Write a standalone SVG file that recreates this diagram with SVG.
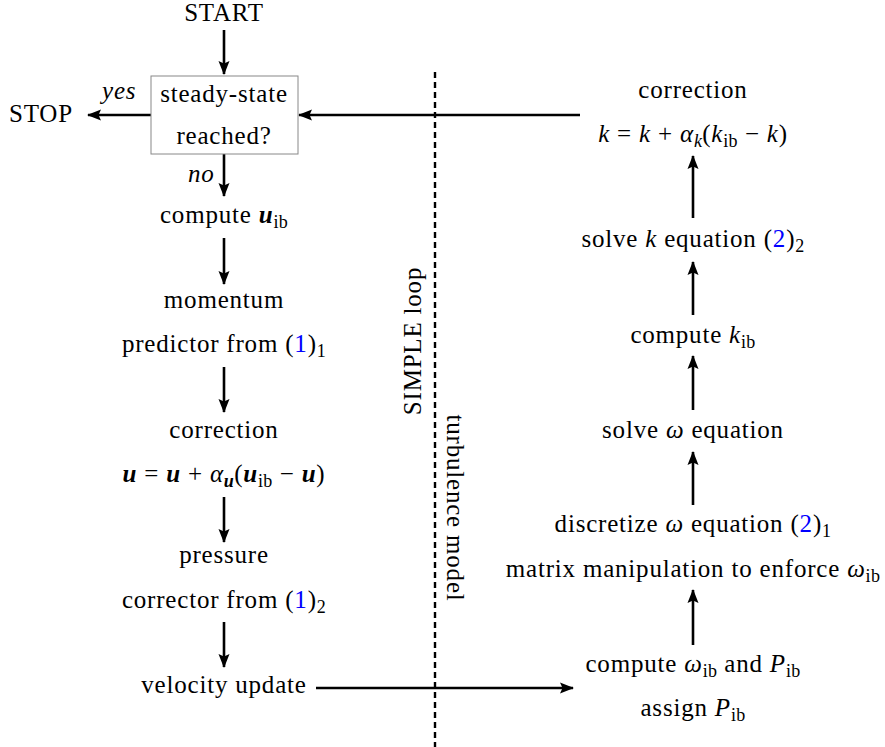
<svg xmlns="http://www.w3.org/2000/svg" width="885" height="747" viewBox="0 0 885 747">
<defs>
<marker id="ah" markerWidth="14" markerHeight="12" refX="13" refY="6" orient="auto" markerUnits="userSpaceOnUse">
<path d="M0,0.5 L14,6 L0,11.5 L2.5,6 Z" fill="#000"/>
</marker>
<style>
text{font-family:'Liberation Serif',serif !important;font-size:25px;letter-spacing:0.8px;fill:#000}
tspan{font-family:'Liberation Serif',serif !important}
.c{text-anchor:middle}
.i{font-style:italic}
.b{font-style:italic;font-weight:bold}
.s{font-size:18px;letter-spacing:0.3px}
.ref{fill:#0000ff}
.e{stroke:#000;stroke-width:2.6;fill:none;marker-end:url(#ah)}
.box{fill:#fff;stroke:#888;stroke-width:1}
.dash{stroke:#000;stroke-width:2.4;stroke-dasharray:6 4;fill:none}
</style>
</defs>
<g id="connectors">
<line class="e" x1="224" y1="30" x2="224" y2="74"/>
<line class="e" x1="151" y1="115" x2="88" y2="115"/>
<line class="e" x1="224" y1="154" x2="224" y2="196"/>
<line class="e" x1="224" y1="238" x2="224" y2="284"/>
<line class="e" x1="224" y1="367" x2="224" y2="412"/>
<line class="e" x1="224" y1="497" x2="224" y2="542"/>
<line class="e" x1="224" y1="622" x2="224" y2="667"/>
<line class="e" x1="316" y1="688" x2="573" y2="688"/>
<line class="e" x1="693" y1="645" x2="693" y2="590"/>
<line class="e" x1="693" y1="505" x2="693" y2="452"/>
<line class="e" x1="693" y1="410" x2="693" y2="356"/>
<line class="e" x1="693" y1="315" x2="693" y2="262"/>
<line class="e" x1="693" y1="218" x2="693" y2="156"/>
<line class="e" x1="580" y1="115" x2="299" y2="115"/>
<line class="dash" x1="435" y1="72" x2="435" y2="747"/>
<text style="font-family:'Liberation Serif'" class="i" x="102" y="99">yes</text>
<text style="font-family:'Liberation Serif'" class="i" x="188" y="182">no</text>
</g>
<g id="start"><text style="font-family:'Liberation Serif'" class="c" x="224" y="21">START</text></g>
<g id="stop"><text style="font-family:'Liberation Serif'" x="9" y="122">STOP</text></g>
<g id="decision">
<rect class="box" x="151" y="76" width="147" height="78"/>
<text style="font-family:'Liberation Serif'" class="c" x="224" y="102">steady-state</text>
<text style="font-family:'Liberation Serif'" class="c" x="224" y="144">reached?</text>
</g>
<g id="compute-uib"><text style="font-family:'Liberation Serif'" class="c" x="224" y="223">compute <tspan class="b">u</tspan><tspan class="s" dy="5">ib</tspan></text></g>
<g id="momentum">
<text style="font-family:'Liberation Serif'" class="c" x="224" y="308">momentum</text>
<text style="font-family:'Liberation Serif'" class="c" x="224" y="352">predictor from (<tspan class="ref">1</tspan>)<tspan class="s" dy="5">1</tspan></text>
</g>
<g id="correction-u">
<text style="font-family:'Liberation Serif'" class="c" x="224" y="438">correction</text>
<text style="font-family:'Liberation Serif'" class="c" x="224" y="482"><tspan class="b">u</tspan> = <tspan class="b">u</tspan> + <tspan class="i">α</tspan><tspan class="b s" dy="5">u</tspan><tspan dy="-5">(</tspan><tspan class="b">u</tspan><tspan class="s" dy="5">ib</tspan><tspan dy="-5"> − </tspan><tspan class="b">u</tspan>)</text>
</g>
<g id="pressure">
<text style="font-family:'Liberation Serif'" class="c" x="224" y="563">pressure</text>
<text style="font-family:'Liberation Serif'" class="c" x="224" y="608">corrector from (<tspan class="ref">1</tspan>)<tspan class="s" dy="5">2</tspan></text>
</g>
<g id="velocity"><text style="font-family:'Liberation Serif'" class="c" x="224" y="693">velocity update</text></g>
<g id="simple-label"><text style="font-family:'Liberation Serif'" class="c" transform="translate(421,341) rotate(-90)">SIMPLE loop</text></g>
<g id="turb-label"><text style="font-family:'Liberation Serif'" class="c" transform="translate(447,508) rotate(90)">turbulence model</text></g>
<g id="correction-k">
<text style="font-family:'Liberation Serif'" class="c" x="693" y="98">correction</text>
<text style="font-family:'Liberation Serif'" class="c" x="693" y="142"><tspan class="i">k</tspan> = <tspan class="i">k</tspan> + <tspan class="i">α</tspan><tspan class="i s" dy="5">k</tspan><tspan dy="-5">(</tspan><tspan class="i">k</tspan><tspan class="s" dy="5">ib</tspan><tspan dy="-5"> − </tspan><tspan class="i">k</tspan>)</text>
</g>
<g id="solve-k"><text style="font-family:'Liberation Serif'" class="c" x="693" y="247">solve <tspan class="i">k</tspan> equation (<tspan class="ref">2</tspan>)<tspan class="s" dy="5">2</tspan></text></g>
<g id="compute-kib"><text style="font-family:'Liberation Serif'" class="c" x="693" y="343">compute <tspan class="i">k</tspan><tspan class="s" dy="5">ib</tspan></text></g>
<g id="solve-w"><text style="font-family:'Liberation Serif'" class="c" x="693" y="438">solve <tspan class="i">ω</tspan> equation</text></g>
<g id="discretize">
<text style="font-family:'Liberation Serif'" class="c" x="693" y="532">discretize <tspan class="i">ω</tspan> equation (<tspan class="ref">2</tspan>)<tspan class="s" dy="5">1</tspan></text>
<text style="font-family:'Liberation Serif'" class="c" x="693" y="577">matrix manipulation to enforce <tspan class="i">ω</tspan><tspan class="s" dy="5">ib</tspan></text>
</g>
<g id="compute-wib">
<text style="font-family:'Liberation Serif'" class="c" x="693" y="672">compute <tspan class="i">ω</tspan><tspan class="s" dy="5">ib</tspan><tspan dy="-5"> and </tspan><tspan class="i">P</tspan><tspan class="s" dy="5">ib</tspan></text>
<text style="font-family:'Liberation Serif'" class="c" x="693" y="716">assign <tspan class="i">P</tspan><tspan class="s" dy="5">ib</tspan></text>
</g>
</svg>
